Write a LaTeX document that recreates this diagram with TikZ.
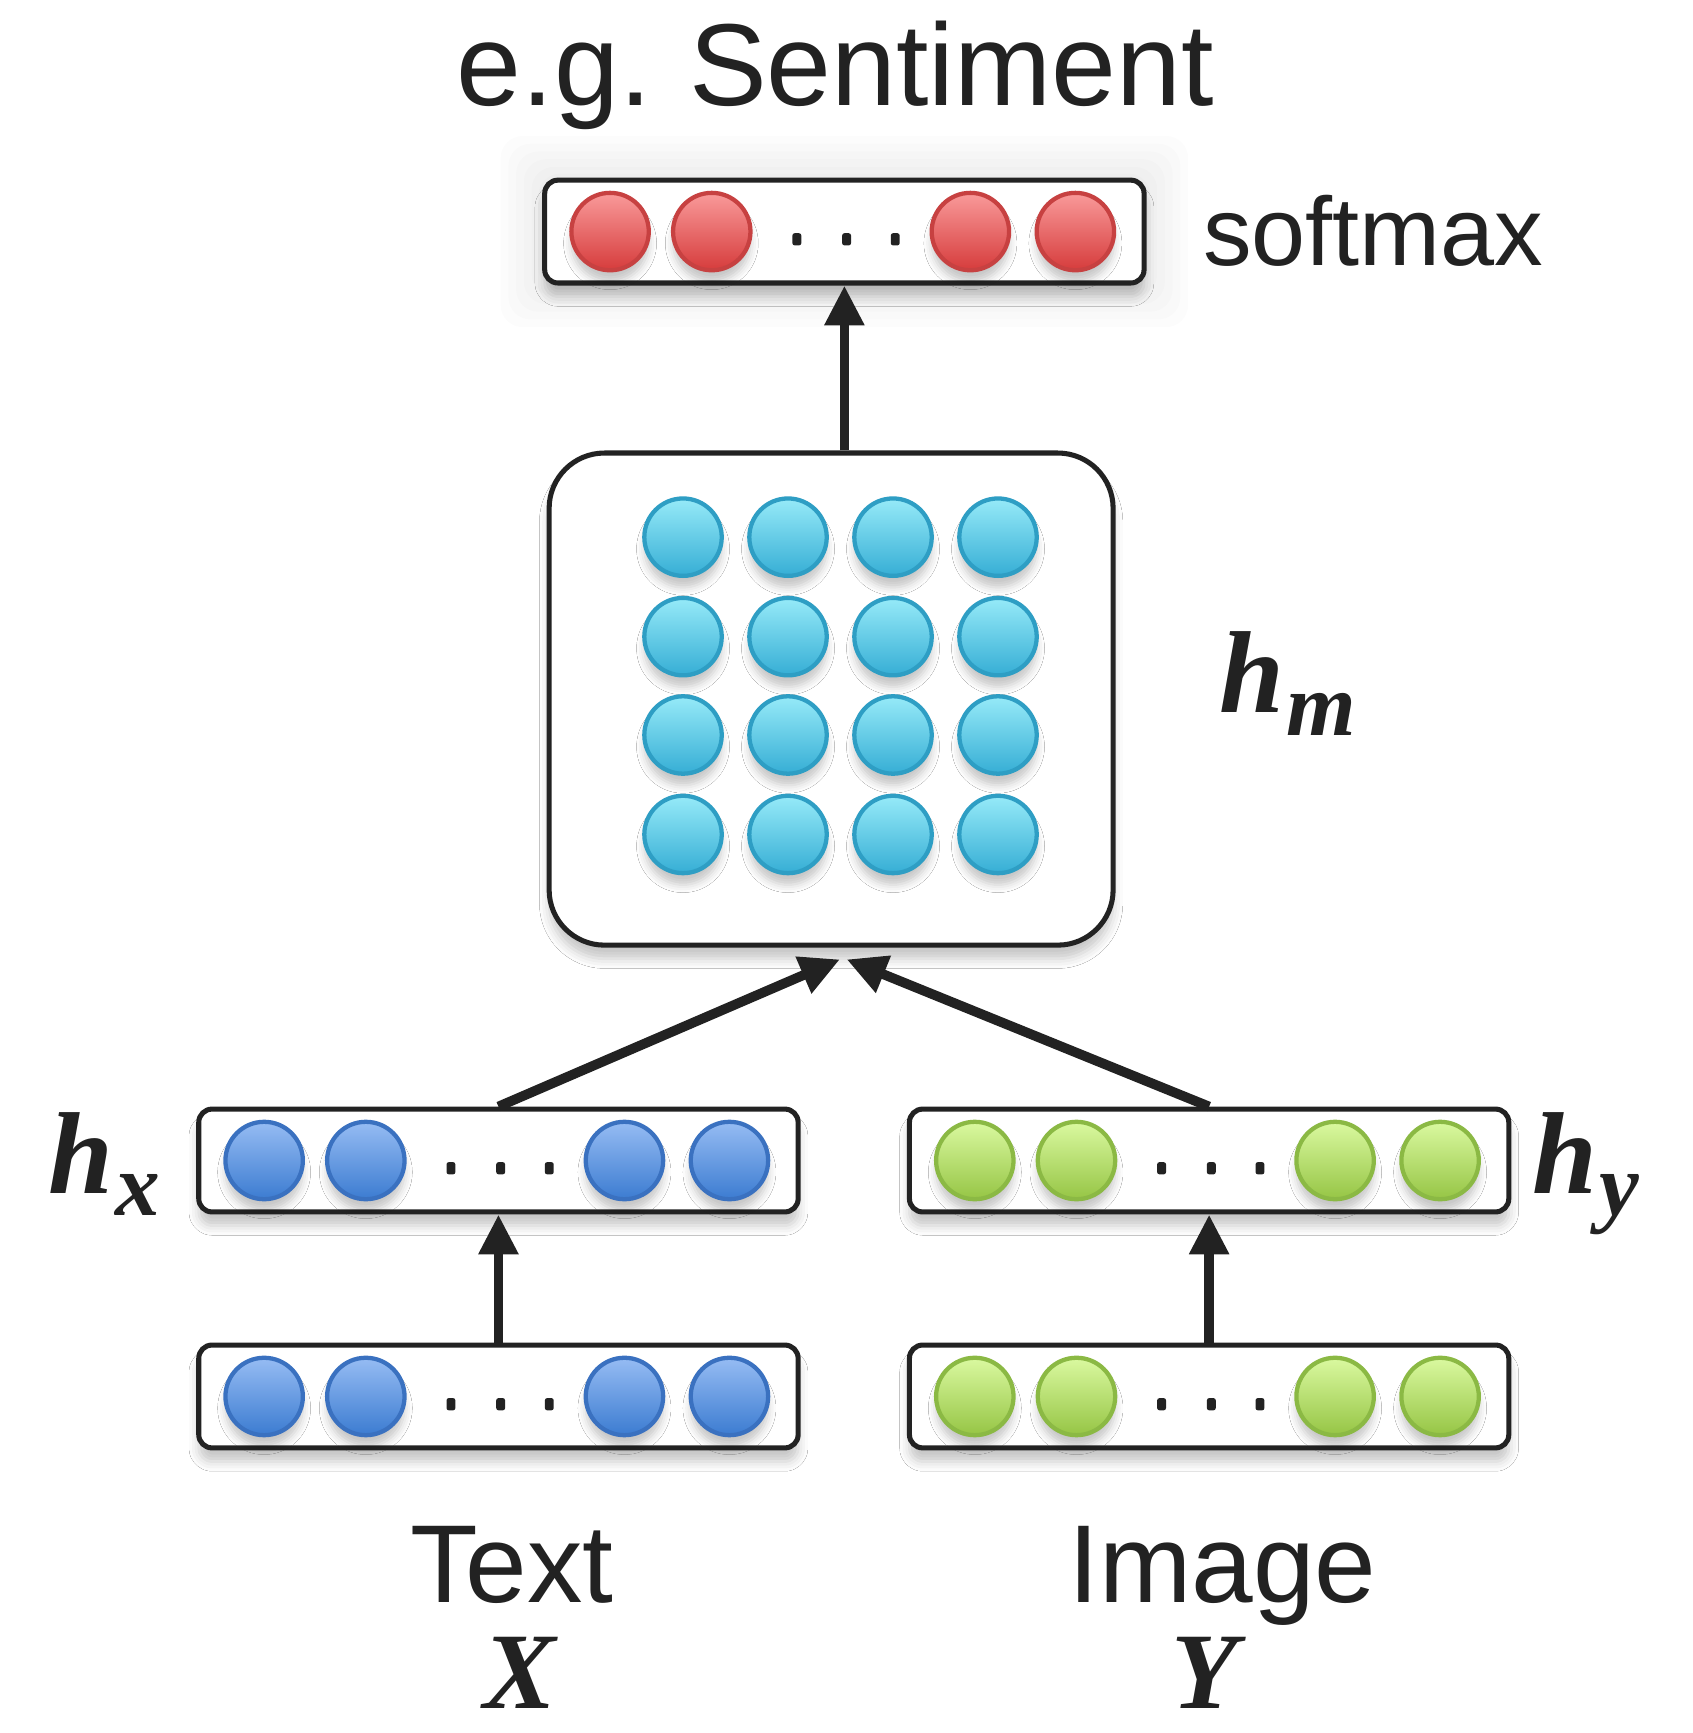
\documentclass[tikz,border=0pt]{standalone}
\usepackage{fontspec}
\setmainfont{Liberation Sans}
\newfontfamily\labserif{Liberation Serif}
\usetikzlibrary{arrows.meta,shadows.blur}

\definecolor{inkc}{HTML}{222222}
\definecolor{redT}{HTML}{F99A9A}
\definecolor{redB}{HTML}{D63C3C}
\definecolor{redE}{HTML}{C74141}
\definecolor{cyaT}{HTML}{96EAF8}
\definecolor{cyaB}{HTML}{36AED5}
\definecolor{cyaE}{HTML}{2E9EC4}
\definecolor{bluT}{HTML}{96BCF3}
\definecolor{bluB}{HTML}{3C7CD1}
\definecolor{bluE}{HTML}{3A71C0}
\definecolor{grnT}{HTML}{DAF9A0}
\definecolor{grnB}{HTML}{96C545}
\definecolor{grnE}{HTML}{8BB944}

% bold italic serif label with a lowered subscript
\newcommand\hlab[1]{{\labserif\bfseries\itshape\fontsize{30}{30}\selectfont h\kern0.02cm\raisebox{-0.2cm}{\fontsize{23}{23}\selectfont #1}}}

\tikzset{
  neuron/.style={circle, minimum size=0.70cm, inner sep=0pt, line width=1.1pt,
    blur shadow={shadow xshift=0pt, shadow yshift=-3pt, shadow blur radius=2pt, shadow opacity=22}},
  redn/.style={neuron, draw=redE, top color=redT, bottom color=redB},
  cyan/.style={neuron, draw=cyaE, top color=cyaT, bottom color=cyaB},
  blun/.style={neuron, draw=bluE, top color=bluT, bottom color=bluB},
  grnn/.style={neuron, draw=grnE, top color=grnT, bottom color=grnB},
  layerbox/.style={draw=inkc, line width=1.3pt, fill=white, rounded corners=0.12cm,
    minimum width=5.42cm, minimum height=0.93cm, inner sep=0pt,
    blur shadow={shadow xshift=0pt, shadow yshift=-3.5pt, shadow blur radius=2.5pt, shadow opacity=22}},
  bigbox/.style={draw=inkc, line width=1.3pt, fill=white, rounded corners=0.5cm,
    minimum width=5.10cm, minimum height=4.45cm, inner sep=0pt,
    blur shadow={shadow xshift=0pt, shadow yshift=-3.5pt, shadow blur radius=2.5pt, shadow opacity=22}},
  conn/.style={draw=inkc, line width=2.5pt, -{Triangle[length=0.36cm, width=0.34cm]}},
  dotc/.style={fill=inkc},
  sans/.style={text=inkc, inner sep=0pt},
}

\begin{document}
\begin{tikzpicture}[x=0.01cm, y=-0.01cm]
  \useasboundingbox (0,0) rectangle (1531,1568);
  \fill[white] (0,0) rectangle (1531,1568);

  % faint glow behind the output layer
  \foreach \s in {40,33,26,19,12,6}
    \fill[black, opacity=0.011, rounded corners=0.2cm] (493-\s,163-\s) rectangle (1035+\s,256+\s);

  % layer boxes
  \node[layerbox] (top) at (764,209.5) {};
  \node[bigbox]   (hm)  at (752,632.5) {};
  \node[layerbox] (hx)  at (451,1050) {};
  \node[layerbox] (hy)  at (1094,1050) {};
  \node[layerbox] (inx) at (451,1263.5) {};
  \node[layerbox] (iny) at (1094,1263.5) {};

  % units of the vector layers
  \foreach \dx [count=\i] in {-212,-120,114,209} {
    \node[redn] (t\i)  at ([xshift=\dx*0.01cm]top.center) {};
    \node[blun] (x\i)  at ([xshift=\dx*0.01cm]hx.center) {};
    \node[grnn] (y\i)  at ([xshift=\dx*0.01cm]hy.center) {};
    \node[blun] (ix\i) at ([xshift=\dx*0.01cm]inx.center) {};
    \node[grnn] (iy\i) at ([xshift=\dx*0.01cm]iny.center) {};
  }
  \foreach \b in {top,hx,hy,inx,iny}
    \foreach \dx in {-43,2,46}
      \fill[dotc, rounded corners=0.02cm] ([xshift=\dx*0.01cm-0.04cm, yshift=-0.015cm]\b.center) rectangle ([xshift=\dx*0.01cm+0.04cm, yshift=-0.125cm]\b.center);

  % units of the joint layer
  \foreach \cx [count=\c] in {618,713,808,903}
    \foreach \ry [count=\r] in {486,576,665,755}
      \node[cyan] (m\r\c) at (\cx,\ry) {};

  % connections
  \coordinate (mL) at (760,868);
  \coordinate (mR) at (766,868);
  \draw[conn] (top.south |- hm.north) -- (top.south);
  \draw[conn] (hx.north) -- (mL);
  \draw[conn] (hy.north) -- (mR);
  \draw[conn] (inx.north) -- (hx.south);
  \draw[conn] (iny.north) -- (hy.south);

  % labels
  \node[sans, anchor=base, font=\fontsize{30}{30}\selectfont] (lsent) at (756,95) {e.g.\kern-0.05cm{} Sentiment};
  \node[sans, anchor=base west, font=\fontsize{25}{25}\selectfont] (lsoft) at (1088,240) {softmax};
  \node[sans, anchor=base, font=\fontsize{28.5}{28.5}\selectfont] (ltext) at (463,1450) {Text};
  \node[sans, anchor=base, font=\fontsize{28.5}{28.5}\selectfont] (limg) at (1106,1450) {Image};
  \node[sans, anchor=base, font=\labserif\bfseries\itshape\fontsize{28}{28}\selectfont] (lX) at (470,1546) {X};
  \node[sans, anchor=base, font=\labserif\bfseries\itshape\fontsize{28}{28}\selectfont] (lY) at (1090,1546) {Y};
  \node[sans, anchor=base west] (lhm) at (1103,645) {\hlab{m}};
  \node[sans, anchor=base west] (lhx) at (43,1080) {\hlab{x}};
  \node[sans, anchor=base west] (lhy) at (1386,1080) {\hlab{y}};
\end{tikzpicture}
\end{document}
